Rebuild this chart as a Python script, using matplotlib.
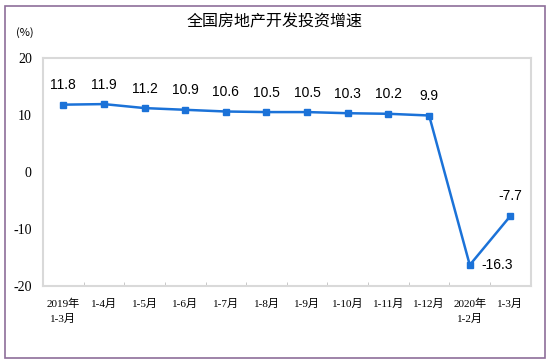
import matplotlib
matplotlib.use("Agg")
import matplotlib.pyplot as plt
from matplotlib.patches import Rectangle

categories = ["2019年\n1-3月", "1-4月", "1-5月", "1-6月", "1-7月", "1-8月", "1-9月",
              "1-10月", "1-11月", "1-12月", "2020年\n1-2月", "1-3月"]
values = [11.8, 11.9, 11.2, 10.9, 10.6, 10.5, 10.5, 10.3, 10.2, 9.9, -16.3, -7.7]
yticks = [-20, -10, 0, 10, 20]
title = "全国房地产开发投资增速"
unit = "(%)"

plt.rcParams['font.family'] = ['Liberation Sans', 'Noto Sans CJK SC', 'DejaVu Sans']

fig = plt.figure(figsize=(5.5, 3.64), dpi=100)
ax = fig.add_axes([0.078, 0.214, 0.887, 0.627])

x = list(range(len(values)))
color = "#1B72D8"
ax.plot(x, values, color=color, lw=1.8, marker="s", ms=4.5, zorder=3)

ax.set_xlim(-0.5, len(values) - 0.5)
ax.set_ylim(-20, 20)
ax.set_yticks(yticks)
ax.set_yticklabels([str(v) for v in yticks], family=['Liberation Serif'], fontsize=10)
ax.tick_params(axis='y', length=0, pad=8)

ax.set_xticks(x)
ax.set_xticklabels(categories, family=['Liberation Serif', 'Noto Sans CJK SC'], fontsize=8,
                   linespacing=1.6)
ax.tick_params(axis='x', length=0, pad=9)
ax.set_xticks([i + 0.5 for i in range(len(values) - 1)], minor=True)
ax.tick_params(axis='x', which='minor', direction='in', length=3, color="#BFBFBF")

for s in ax.spines.values():
    s.set_color("#D9D9D9")
    s.set_linewidth(1.5)

for i, v in enumerate(values):
    if i == 10:
        ax.annotate(f"{v}", (i, v), xytext=(8, 0), textcoords="offset points",
                    ha="left", va="center", fontsize=10)
    else:
        ax.annotate(f"{v}", (i, v), xytext=(0, 9), textcoords="offset points",
                    ha="center", va="bottom", fontsize=10)

fig.text(0.5, 0.94, title, ha="center", va="center", fontsize=11.5,
         family=['Noto Sans CJK SC'], weight="medium")
fig.text(0.045, 0.91, unit, ha="center", va="center", fontsize=8,
         family=['Noto Sans CJK SC', 'DejaVu Sans'])

fig.patches.append(Rectangle((5 / 550, 6 / 364), 540 / 550, 352 / 364,
                             transform=fig.transFigure, fill=False,
                             edgecolor="#8E6E99", lw=1.2))

fig.savefig("out.png", dpi=100)
